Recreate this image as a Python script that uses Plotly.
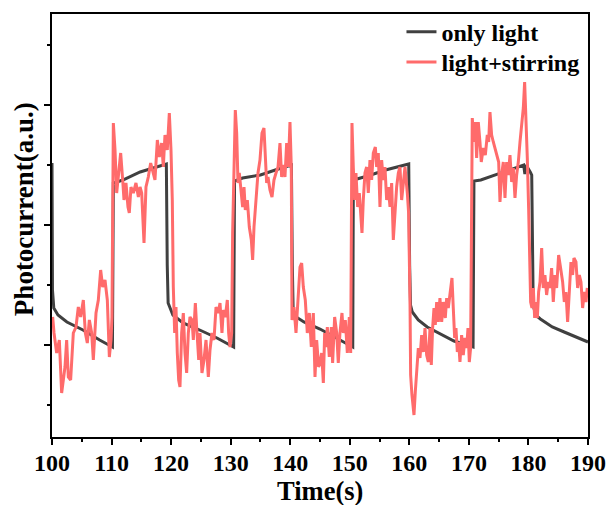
import plotly.graph_objects as go

# ---------------- data (time in s, photocurrent in arbitrary units) ----------------
light_x = [100.0, 100.08, 100.3, 101.0, 102.5, 105.2, 108.0, 110.15,
           110.3, 111.9, 114.8, 119.2,
           119.35, 119.5, 120.3, 122.0, 124.8, 127.7, 130.5,
           130.65, 132.0, 135.0, 138.0, 140.2,
           140.35, 140.5, 141.0, 142.3, 145.0, 148.0, 150.5,
           150.6, 153.0, 156.0, 159.9,
           160.05, 160.2, 160.5, 161.5, 163.0, 165.0, 167.5, 170.7,
           170.85, 172.0, 174.0, 176.0, 178.0, 179.2, 179.4, 179.6, 180.3, 180.55,
           180.8, 181.2, 182.0, 184.0, 186.0, 188.0, 190.0]
light_y = [302, 175, 157, 150, 143, 135, 125, 118,
           282, 285, 293, 301,
           200, 162, 150, 142, 135, 127, 118,
           284, 287, 290, 296, 300,
           200, 152, 148, 143, 136, 126, 118,
           285, 289, 295, 301,
           200, 160, 153, 145, 138, 132, 124, 118,
           284, 285, 289, 293, 297, 300, 291, 300, 293, 290,
           160, 150, 146, 138, 133, 128, 123]

stir_x_1 = [100.11, 100.34, 100.78, 101.23, 101.62, 102.18, 102.46, 102.74, 103.13, 103.58,
            104.03, 104.42, 104.81, 105.26, 105.60, 105.93, 106.27, 106.66, 106.94, 107.39,
            107.78, 108.17, 108.51, 108.90, 109.29, 109.63, 109.91, 110.07, 110.30, 110.58,
            110.86, 111.14, 111.53, 111.87, 112.09, 112.42, 112.76, 112.98, 113.26, 113.66,
            114.10, 114.50]
stir_y_1 = [148, 132, 112, 125, 72, 98, 125, 88, 85, 132,
            138, 158, 148, 165, 132, 122, 145, 132, 105, 152,
            165, 195, 178, 185, 165, 108, 125, 148, 342, 315,
            272, 288, 312, 285, 265, 282, 258, 252, 278, 272,
            282, 268]

stir_x_2 = [114.78, 115.06, 115.45, 115.78, 116.17, 116.57, 116.90, 117.29, 117.69, 118.02,
            118.41, 118.69, 118.97, 119.36, 119.70, 119.98, 120.20, 120.37, 120.60, 120.82,
            121.04, 121.27, 121.49, 121.77, 122.05, 122.33, 122.61, 122.89, 123.17, 123.51,
            123.73, 124.07, 124.29, 124.63, 124.85, 125.18, 125.52, 125.86, 126.25, 126.53,
            126.86, 127.20, 127.54, 127.93, 128.21, 128.54, 128.77, 129.10, 129.44, 129.66]
stir_y_2 = [278, 272, 222, 278, 288, 302, 295, 285, 325, 308,
            322, 298, 330, 315, 352, 315, 265, 178, 132, 158,
            112, 85, 78, 132, 152, 112, 92, 132, 148, 145,
            125, 162, 138, 105, 132, 92, 105, 125, 88, 115,
            132, 125, 158, 152, 162, 132, 155, 148, 165, 132]

stir_x_3 = [129.89, 130.17, 130.33, 130.56, 130.78, 131.01, 131.23, 131.45, 131.73, 132.01,
            132.24, 132.46, 132.80, 133.13, 133.47, 133.69, 133.92, 134.25, 134.59, 134.92,
            135.26, 135.59, 135.82, 136.04, 136.27, 136.60, 136.94, 137.27, 137.61, 137.95,
            138.28, 138.56, 138.84, 139.12, 139.40, 139.68, 139.96, 140.18, 140.30, 140.63,
            140.97, 141.30, 141.64, 141.92, 142.20, 142.53, 142.87, 143.21, 143.54, 143.88,
            144.16, 144.44, 144.77]
stir_y_3 = [118, 132, 232, 315, 355, 332, 282, 292, 272, 258,
            278, 255, 265, 238, 225, 205, 238, 265, 292, 305,
            332, 337, 312, 282, 288, 275, 268, 285, 292, 298,
            322, 288, 300, 288, 322, 298, 343, 298, 145, 158,
            132, 165, 198, 202, 178, 165, 132, 152, 118, 152,
            88, 125, 98]

stir_x_4 = [145.00, 145.28, 145.56, 145.78, 146.00, 146.23, 146.56, 146.90, 147.12, 147.46,
            147.80, 148.07, 148.35, 148.69, 148.91, 149.25, 149.59, 149.92, 150.15, 150.37,
            150.59, 150.82, 151.04, 151.32, 151.60, 151.83, 152.05, 152.27, 152.55, 152.83,
            153.11, 153.39, 153.67, 153.95, 154.29, 154.51, 154.79, 155.07, 155.35, 155.63,
            155.91, 156.19, 156.47, 156.75, 157.03, 157.31, 157.59, 157.87, 158.15, 158.43,
            158.71, 158.99, 159.27, 159.66, 159.88, 160.11]
stir_y_4 = [102, 112, 82, 132, 118, 138, 108, 138, 102, 148,
            132, 102, 132, 152, 132, 145, 112, 148, 112, 342,
            298, 265, 292, 258, 272, 252, 232, 265, 292, 298,
            272, 305, 285, 312, 318, 298, 312, 258, 305, 285,
            298, 265, 278, 258, 282, 225, 255, 278, 292, 298,
            265, 282, 298, 272, 252, 165]

stir_x_5 = [160.22, 160.44, 160.78, 161.00, 161.23, 161.51, 161.79, 162.07, 162.35, 162.63,
            162.91, 163.19, 163.47, 163.69, 163.91, 164.14, 164.36, 164.59, 164.87, 165.14,
            165.43, 165.70, 166.04, 166.27, 166.54, 166.82, 167.16, 167.38, 167.61, 167.83,
            168.06, 168.28, 168.50, 168.78, 169.06, 169.34, 169.62, 169.85, 170.07, 170.29,
            170.57, 170.85, 171.08, 171.30, 171.58, 171.86, 172.08, 172.42, 172.76, 173.09,
            173.32, 173.54, 173.82, 174.10, 174.38, 174.77, 175.00, 175.22]
stir_y_5 = [90, 70, 50, 73, 97, 117, 107, 130, 113, 137,
            110, 103, 137, 100, 137, 157, 140, 163, 143, 167,
            143, 163, 147, 167, 157, 170, 187, 157, 127, 137,
            113, 123, 103, 130, 110, 127, 117, 137, 103, 117,
            347, 323, 343, 307, 343, 323, 303, 317, 310, 330,
            323, 353, 330, 323, 317, 310, 303, 263]

stir_x_6 = [175.50, 175.78, 176.06, 176.34, 176.62, 176.90, 177.18, 177.46, 177.74, 178.02,
            178.30, 178.58, 178.86, 179.14, 179.36, 179.58, 179.81, 180.03, 180.20, 180.37,
            180.59, 180.82, 181.04, 181.26, 181.49, 181.71, 181.94, 182.22, 182.49, 182.77,
            183.05, 183.33, 183.61, 183.89, 184.17, 184.45, 184.73, 185.07, 185.40, 185.74,
            186.02, 186.30, 186.58, 186.86, 187.14, 187.42, 187.64, 187.98, 188.26, 188.54,
            188.82, 189.10, 189.38, 189.66, 189.88]
stir_y_6 = [290, 303, 267, 303, 290, 310, 283, 297, 267, 290,
            303, 323, 343, 357, 383, 350, 307, 257, 190, 163,
            157, 177, 147, 163, 147, 173, 183, 217, 177, 190,
            170, 183, 177, 197, 163, 190, 177, 210, 197, 183,
            163, 173, 143, 177, 203, 190, 207, 203, 177, 190,
            183, 157, 173, 163, 177]

xs_parts = [stir_x_1, stir_x_2, stir_x_3, stir_x_4, stir_x_5, stir_x_6]
ys_parts = [stir_y_1, stir_y_2, stir_y_3, stir_y_4, stir_y_5, stir_y_6]
for a, b in zip(xs_parts, ys_parts):
    assert len(a) == len(b), (len(a), len(b))
assert len(light_x) == len(light_y), (len(light_x), len(light_y))
stir_x = [v for p in xs_parts for v in p]
stir_y = [v for p in ys_parts for v in p]

x_range = [100, 190]
y_range = [28, 451]

FONT = "Liberation Serif"
legend_font = dict(family=FONT, size=24, color="black", weight="bold")

fig = go.Figure()
fig.add_trace(go.Scatter(x=light_x, y=light_y, mode="lines", name="only light",
                         line=dict(color="#404040", width=3), legend="legend"))
fig.add_trace(go.Scatter(x=stir_x, y=stir_y, mode="lines", name="light+stirring",
                         line=dict(color="#ff6b6b", width=3), legend="legend2"))

fig.update_layout(
    width=608, height=505,
    margin=dict(l=52, r=20, t=14, b=68, autoexpand=False),
    paper_bgcolor="white", plot_bgcolor="white",
    showlegend=True,
    legend=dict(x=0.652, xanchor="left", y=1.010, yanchor="top",
                bgcolor="rgba(0,0,0,0)", borderwidth=0, font=legend_font),
    legend2=dict(x=0.652, xanchor="left", y=0.939, yanchor="top",
                 bgcolor="rgba(0,0,0,0)", borderwidth=0, font=legend_font),
    xaxis=dict(range=x_range, showline=True, linecolor="black", linewidth=2, mirror=True,
               ticks="outside", ticklen=6, tickwidth=2, tickcolor="black",
               tick0=100, dtick=10, showgrid=False, zeroline=False, automargin=False,
               ticklabelstandoff=-3,
               tickfont=dict(family=FONT, size=24, color="black", weight="bold"),
               minor=dict(ticks="outside", ticklen=3, tickwidth=2, tickcolor="black", dtick=5,
                          showgrid=False)),
    yaxis=dict(range=y_range, showline=True, linecolor="black", linewidth=2, mirror=True,
               ticks="outside", ticklen=6, tickwidth=2, tickcolor="black", automargin=False,
               tick0=0, dtick=120, showticklabels=False, showgrid=False, zeroline=False,
               minor=dict(ticks="outside", ticklen=3, tickwidth=2, tickcolor="black", dtick=60,
                          showgrid=False)),
    annotations=[
        dict(text="Time(s)", xref="paper", yref="paper", x=0.5, y=-0.1277,
             xanchor="center", yanchor="middle", showarrow=False,
             font=dict(family=FONT, size=26.5, color="black", weight="bold")),
        dict(text="Photocurrent(a.u.)", xref="paper", yref="paper", x=-0.052, y=0.539,
             xanchor="center", yanchor="middle", showarrow=False, textangle=-90,
             font=dict(family=FONT, size=27, color="black", weight="bold")),
    ],
)

fig.write_html("out.html", config={"displayModeBar": False},
               post_script="document.body.style.margin='0';document.body.style.padding='0';")
